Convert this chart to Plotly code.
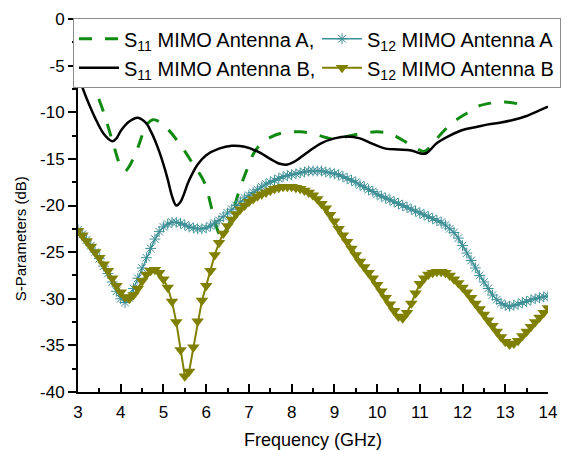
import plotly.graph_objects as go

# ---------------- data ----------------
freq_fine = [round(3.0 + 0.1 * i, 1) for i in range(111)]

s12_a = [
    -22.6, -23.1, -23.7, -24.3, -25.0, -25.7, -26.5, -27.3, -28.2, -29.2,
    -30.0, -30.4, -29.9, -28.9, -27.8, -26.7, -25.6, -24.6, -23.6, -22.8,
    -22.3, -22.0, -21.8, -21.8, -21.9, -22.1, -22.3, -22.4, -22.5, -22.5,
    -22.4, -22.2, -21.9, -21.6, -21.2, -20.8, -20.4, -20.0, -19.6, -19.2,
    -18.9, -18.6, -18.3, -18.0, -17.7, -17.5, -17.3, -17.1, -16.9, -16.8,
    -16.7, -16.6, -16.5, -16.4, -16.3, -16.3, -16.3, -16.3, -16.4, -16.5,
    -16.6, -16.7, -16.9, -17.1, -17.3, -17.5, -17.8, -18.0, -18.3, -18.5,
    -18.8, -19.0, -19.2, -19.4, -19.6, -19.8, -20.0, -20.2, -20.4, -20.6,
    -20.8, -21.0, -21.2, -21.4, -21.6, -21.8, -22.1, -22.5, -22.9, -23.5,
    -24.3, -25.1, -25.9, -26.7, -27.5, -28.2, -28.9, -29.6, -30.1, -30.5,
    -30.7, -30.8, -30.7, -30.6, -30.4, -30.3, -30.1, -30.0, -29.9, -29.8,
    -29.7,
]

s12_b = [
    -22.7, -23.2, -23.8, -24.4, -25.0, -25.6, -26.3, -27.0, -27.8, -28.6,
    -29.3, -29.8, -30.0, -29.6, -28.9, -28.1, -27.4, -27.0, -26.9, -27.2,
    -27.9, -28.8, -30.3, -32.5, -35.5, -38.3, -37.8, -35.2, -32.4, -30.2,
    -28.6, -27.0, -25.3, -24.0, -23.0, -22.2, -21.5, -20.9, -20.4, -20.0,
    -19.6, -19.3, -19.0, -18.8, -18.6, -18.4, -18.2, -18.1, -18.0, -18.0,
    -18.0, -18.1, -18.2, -18.4, -18.6, -18.9, -19.3, -19.8, -20.3, -21.0,
    -21.7, -22.5, -23.2, -23.9, -24.6, -25.3, -26.0, -26.6, -27.2, -27.8,
    -28.5, -29.2, -29.9, -30.6, -31.3, -31.9, -32.1, -31.5, -30.5, -29.4,
    -28.4, -27.8, -27.4, -27.2, -27.1, -27.1, -27.2, -27.5, -27.9, -28.3,
    -28.8, -29.3, -29.9, -30.5, -31.1, -31.7, -32.3, -32.9, -33.5, -34.1,
    -34.6, -34.9, -34.8, -34.5, -34.0, -33.5, -33.0, -32.5, -32.0, -31.5,
    -31.0,
]

s11_a_freq = [3.0, 3.2, 3.4, 3.6, 3.8, 4.0, 4.1, 4.2, 4.4, 4.6, 4.75, 4.9, 5.1,
              5.3, 5.5, 5.7, 5.9, 6.0, 6.1, 6.2, 6.3, 6.4, 6.5, 6.6, 6.7, 6.8,
              6.9, 7.0, 7.1, 7.2, 7.5, 7.8, 8.2, 8.5, 8.8, 9.0, 9.3, 9.6, 10.0,
              10.3, 10.6, 10.9, 11.1, 11.3, 11.5, 11.8, 12.1, 12.4, 12.7, 13.0,
              13.3, 13.55]
s11_a = [-3.5, -5.5, -7.6, -10.0, -13.0, -15.8, -16.3, -15.8, -13.8, -11.4,
         -10.8, -11.0, -11.8, -12.9, -14.2, -15.6, -17.0, -18.0, -19.8, -21.6,
         -23.0, -23.4, -22.5, -21.0, -19.5, -18.0, -16.8, -15.6, -14.5, -13.8,
         -12.7, -12.2, -12.1, -12.3, -12.7, -12.9, -12.6, -12.3, -12.1, -12.3,
         -13.0, -13.8, -14.2, -13.4, -12.3, -11.0, -10.1, -9.3, -9.0, -8.9,
         -9.1, -9.4]

s11_b_freq = [3.0, 3.1, 3.2, 3.4, 3.6, 3.8, 3.9, 4.0, 4.2, 4.4, 4.6, 4.7, 4.8,
              4.9, 5.0, 5.1, 5.2, 5.3, 5.4, 5.6, 5.8, 6.0, 6.3, 6.6, 6.9, 7.2,
              7.5, 7.7, 7.9, 8.1, 8.4, 8.7, 9.0, 9.3, 9.6, 9.9, 10.2, 10.5, 10.8,
              11.0, 11.15, 11.4, 11.7, 12.0, 12.3, 12.6, 12.9, 13.2, 13.5, 13.8,
              14.0]
s11_b = [-6.0, -7.3, -8.5, -10.6, -12.3, -13.1, -12.8, -12.0, -11.0, -10.6,
         -11.2, -12.0, -13.0, -14.2, -15.6, -17.2, -19.0, -20.0, -19.6, -17.3,
         -15.6, -14.6, -13.9, -13.6, -13.7, -14.2, -15.0, -15.5, -15.6, -15.2,
         -14.2, -13.3, -12.8, -12.6, -12.8, -13.4, -13.9, -14.0, -14.1, -14.4,
         -14.4, -13.3, -12.5, -11.9, -11.6, -11.3, -11.1, -10.8, -10.4, -9.8,
         -9.4]

x_ticks = [3, 4, 5, 6, 7, 8, 9, 10, 11, 12, 13, 14]
x_ticklabels = [str(v) for v in x_ticks]
y_ticks = [0, -5, -10, -15, -20, -25, -30, -35, -40]
y_ticklabels = ["0", "-5", "-10", "-15", "-20", "-25", "-30", "-35", "-40"]

# ---------------- figure ----------------
FONT = "Liberation Sans, Arial, sans-serif"
fig = go.Figure()

fig.add_trace(go.Scatter(
    x=s11_a_freq, y=s11_a, mode="lines", line_shape="spline",
    name="S<sub>11</sub> MIMO Antenna A,",
    line=dict(color="#118a11", width=3, dash="13px,13px"),
    legendrank=1))
fig.add_trace(go.Scatter(
    x=s11_b_freq, y=s11_b, mode="lines", line_shape="spline",
    name="S<sub>11</sub> MIMO Antenna B,",
    line=dict(color="black", width=2.5),
    legendrank=3))
fig.add_trace(go.Scatter(
    x=freq_fine, y=s12_a, mode="lines+markers",
    name="S<sub>12</sub> MIMO Antenna A",
    line=dict(color="#3c8f96", width=1.5),
    marker=dict(symbol="asterisk-open", size=9,
                line=dict(color="#4fb7c2", width=1)),
    legendrank=2))
fig.add_trace(go.Scatter(
    x=freq_fine, y=s12_b, mode="lines+markers",
    name="S<sub>12</sub> MIMO Antenna B",
    line=dict(color="#808000", width=2),
    marker=dict(symbol="triangle-down", size=11, color="#808000"),
    legendrank=4))

fig.update_layout(
    width=568, height=450,
    margin=dict(l=78, r=20, t=19, b=58, autoexpand=False),
    paper_bgcolor="white", plot_bgcolor="white",
    font=dict(family=FONT, size=16, color="black"),
    showlegend=True,
    legend=dict(
        orientation="h",
        xref="paper", yref="paper",
        x=-0.0106, y=1.002,
        xanchor="left", yanchor="top",
        bgcolor="white", bordercolor="#8c8c8c", borderwidth=1,
        font=dict(family=FONT, size=20, color="black"),
        itemwidth=40,
        entrywidth=188,
        traceorder="normal",
    ),
    xaxis=dict(
        range=[3, 14], tickmode="array", tickvals=x_ticks, ticktext=x_ticklabels,
        showgrid=False, zeroline=False,
        showline=True, linecolor="black", linewidth=2,
        ticks="inside", ticklen=8, tickwidth=2, tickcolor="black",
        minor=dict(ticks="inside", ticklen=4, tickwidth=2, tickcolor="black",
                   tickvals=[3.5 + i for i in range(11)]),
        tickfont=dict(size=17),
        ticklabelstandoff=4,
        title=dict(text="Frequency (GHz)", font=dict(size=18), standoff=14),
    ),
    yaxis=dict(
        range=[-40, 0], tickmode="array", tickvals=y_ticks, ticktext=y_ticklabels,
        showgrid=False, zeroline=False,
        showline=True, linecolor="black", linewidth=2,
        ticks="outside", ticklen=8, tickwidth=2, tickcolor="black",
        minor=dict(ticks="outside", ticklen=4, tickwidth=2, tickcolor="black",
                   tickvals=[-2.5 - 5 * i for i in range(8)]),
        tickfont=dict(size=17),
    ),
    annotations=[dict(
        text="S-Parameters (dB)", textangle=-90,
        xref="paper", yref="paper", x=-0.123, y=0.41,
        xanchor="center", yanchor="middle", showarrow=False,
        font=dict(size=15, family=FONT))],
)

fig.write_html("out.html")
